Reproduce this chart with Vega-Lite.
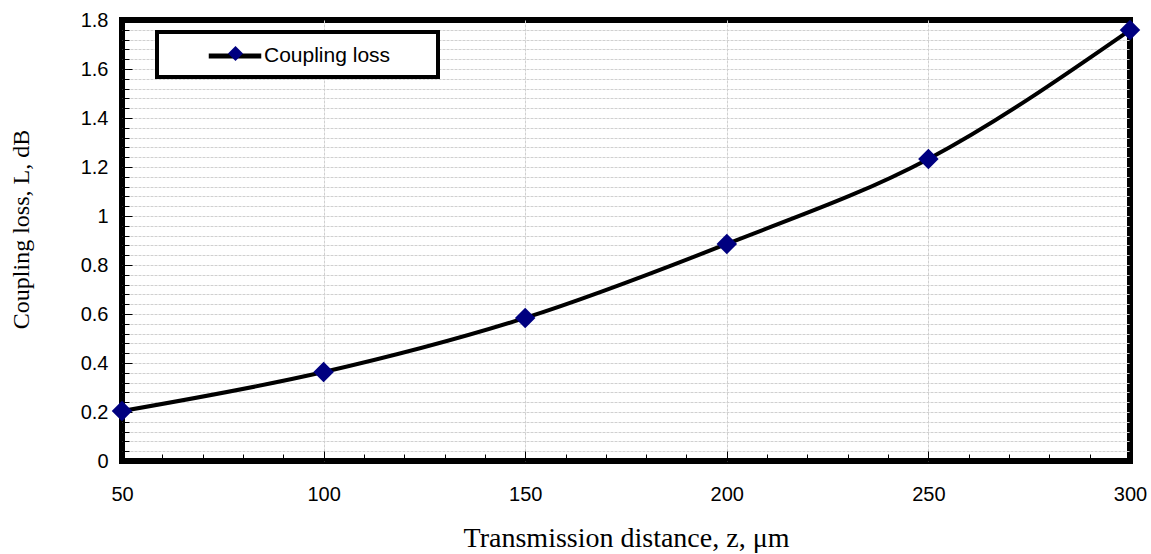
{
  "$schema": "https://vega.github.io/schema/vega-lite/v6.json",
  "width": 1008,
  "height": 441,
  "autosize": "none",
  "padding": {"left": 122, "top": 20, "right": 21, "bottom": 93},
  "background": "white",
  "config": {
    "view": {"stroke": "black", "strokeWidth": 6},
    "font": "Liberation Sans"
  },
  "data": {
    "values": [
      {"z": 50, "L": 0.204},
      {"z": 100, "L": 0.363},
      {"z": 150, "L": 0.584},
      {"z": 200, "L": 0.886},
      {"z": 250, "L": 1.233},
      {"z": 300, "L": 1.759}
    ]
  },
  "encoding": {
    "x": {
      "field": "z",
      "type": "quantitative",
      "scale": {"domain": [50, 300], "nice": false},
      "axis": {
        "values": [50,60,70,80,90,100,110,120,130,140,150,160,170,180,190,200,210,220,230,240,250,260,270,280,290,300],
        "title": "Transmission distance, z, μm",
        "titleFont": "Liberation Serif",
        "titleFontSize": 28,
        "titleFontWeight": "normal",
        "titleColor": "black",
        "titleY": 77,
        "titleBaseline": "middle",
        "labelExpr": "datum.value % 50 == 0 ? datum.label : ''",
        "labelFontSize": 20,
        "labelColor": "black",
        "labelPadding": 33,
        "labelOverlap": false,
        "labelFlush": false,
        "labelBound": false,
        "domain": false,
        "tickColor": "black",
        "tickSize": {"condition": {"test": "datum.value % 50 == 0", "value": -10}, "value": -7},
        "grid": true,
        "gridColor": "#d0d0d0",
        "gridDash": [3, 1],
        "gridOpacity": {"condition": {"test": "datum.value % 50 == 0 && datum.value > 50 && datum.value < 300", "value": 1}, "value": 0}
      }
    },
    "y": {
      "field": "L",
      "type": "quantitative",
      "scale": {"domain": [0, 1.8], "nice": false},
      "axis": {
        "values": [0,0.04,0.08,0.12,0.16,0.2,0.24,0.28,0.32,0.36,0.4,0.44,0.48,0.52,0.56,0.6,0.64,0.68,0.72,0.76,0.8,0.84,0.88,0.92,0.96,1,1.04,1.08,1.12,1.16,1.2,1.24,1.28,1.32,1.36,1.4,1.44,1.48,1.52,1.56,1.6,1.64,1.68,1.72,1.76,1.8],
        "title": "Coupling loss, L, dB",
        "titleFont": "Liberation Serif",
        "titleFontSize": 24,
        "titleFontWeight": "normal",
        "titleColor": "black",
        "titleX": -101,
        "titleY": 209,
        "titleAngle": -90,
        "titleAlign": "center",
        "titleBaseline": "middle",
        "labelExpr": "abs(datum.value*5 - round(datum.value*5)) < 0.000001 ? format(datum.value, '~g') : ''",
        "labelFontSize": 20,
        "labelColor": "black",
        "labelPadding": 24,
        "labelOverlap": false,
        "labelFlush": false,
        "labelBound": false,
        "domain": false,
        "tickColor": "black",
        "tickSize": {"condition": {"test": "abs(datum.value*5 - round(datum.value*5)) < 0.000001", "value": -10}, "value": -7},
        "grid": true,
        "gridColor": "#d0d0d0",
        "gridDash": [3, 1],
        "gridOpacity": {"condition": {"test": "datum.value > 0.001 && datum.value < 1.799", "value": 1}, "value": 0}
      }
    }
  },
  "layer": [
    {
      "mark": {"type": "line", "interpolate": "monotone", "strokeWidth": 4},
      "encoding": {
        "stroke": {
          "datum": "Coupling loss",
          "type": "nominal",
          "scale": {"range": ["black"]},
          "legend": {
            "orient": "none",
            "legendX": 35,
            "legendY": 12,
            "title": null,
            "symbolType": "M-2.5,0H2.5M17.25,0",
            "symbolSize": 441,
            "symbolStrokeWidth": 5,
            "labelFontSize": 21,
            "labelColor": "black",
            "padding": 11,
            "symbolOffset": 54,
            "labelOffset": 16,
            "encode": {
              "legend": {
                "update": {
                  "stroke": {"value": "black"},
                  "strokeWidth": {"value": 4},
                  "fill": {"value": "white"}
                }
              }
            }
          }
        }
      }
    },
    {
      "mark": {"type": "point", "filled": true, "color": "#000080", "size": 420, "opacity": 1},
      "encoding": {
        "shape": {
          "datum": "marker",
          "type": "nominal",
          "scale": {"range": ["diamond"]},
          "legend": {
            "orient": "none",
            "legendX": 35,
            "legendY": 12,
            "title": null,
            "symbolType": "diamond",
            "symbolSize": 225,
            "symbolFillColor": "#000080",
            "symbolStrokeColor": "#000080",
            "symbolStrokeWidth": 0,
            "symbolOpacity": 1,
            "labelFontSize": 21,
            "labelExpr": "''",
            "padding": 11,
            "symbolOffset": 57
          }
        }
      }
    }
  ]
}
